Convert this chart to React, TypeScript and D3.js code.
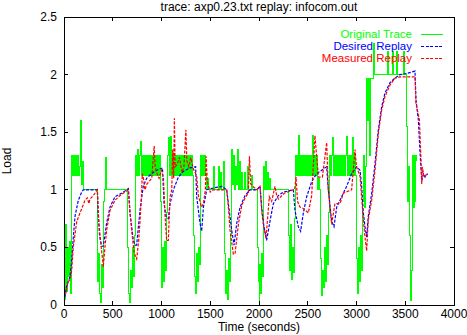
import React, { useEffect, useRef } from "react";
import * as d3 from "d3";

const title = "trace: axp0.23.txt replay: infocom.out";
const xLabel = "Time (seconds)";
const yLabel = "Load";
const xTicks = [0, 500, 1000, 1500, 2000, 2500, 3000, 3500, 4000];
const yTicks = [0, 0.5, 1, 1.5, 2, 2.5];
const seriesNames = ["Original Trace", "Desired Replay", "Measured Replay"];
const seriesColors = ["#00ff00", "#0000ff", "#ff0000"];

// Original trace, sampled every 10 s starting at t = 0
const greenStep = 10;
const greenValues = [
  1.25, 0.05, 0.7, 0.12, 0.5, 0.25, 0.55, 0.1, 1.3, 1.12,
  1.3, 1.12, 1.3, 1.12, 1.3, 1.12, 1.2, 1.6, 1.05, 1.25,
  1, 1, 1, 1, 1, 1, 1, 1, 1, 1,
  1, 1, 1, 1, 0.2, 0.45, 0.1, 0.02, 0.35, 0.15,
  0.4, 0.9, 1.0, 1.28, 1, 1, 1, 1, 1, 1,
  1, 1, 1, 1, 1, 1, 1, 1, 1, 1,
  1, 1, 1, 1, 1, 0.5, 0.1, 0.02, 0.3, 0.15,
  0.5, 0.25, 0.6, 1.3, 1.12, 1.35, 1.12, 1.3, 1.42, 1.12,
  1.3, 1.12, 1.3, 1.12, 1.3, 1.12, 1.3, 1.12, 1.3, 1.12,
  1.3, 1.12, 1.3, 1.12, 1.3, 1.12, 1.3, 1.12, 1.3, 0.9,
  0.15, 0.5, 0.2, 0.55, 0.3, 0.8, 1.3, 1.45, 1.12, 1.46,
  1.12, 1.3, 1.12, 1.3, 1.12, 1.3, 1.12, 1.3, 1.12, 1.3,
  1.12, 1.3, 1.12, 1.3, 1.12, 1.3, 1.12, 1.3, 1.12, 1.3,
  1.12, 1.3, 1.12, 0.6, 0.25, 0.1, 0.45, 0.2, 0.5, 0.35,
  1.3, 1.12, 1.3, 1.12, 1.3, 1.12, 1.0, 1.1, 1.0, 1.0,
  1, 1, 1, 1.2, 1, 1, 1, 1, 1.2, 1,
  1, 1.15, 1, 1, 1.25, 0.45, 0.1, 0.3, 0.05, 0.4,
  0.2, 0.6, 1.35, 1.05, 1.3, 1.0, 1.2, 1.05, 1.35, 1.0,
  1.25, 1.0, 1.15, 1, 1, 1.15, 1, 1, 1.2, 1,
  1, 1, 1.12, 1, 1, 1, 1, 1, 0.5, 0.2,
  0.03, 0.35, 0.1, 0.45, 0.25, 1.2, 1.0, 1.25, 1.0, 1.15,
  1.0, 1.1, 1, 1, 1, 1, 1, 1, 1, 1,
  1, 1, 1, 1, 1, 1, 1, 1, 1, 1,
  0.6, 0.3, 0.7, 0.22, 0.5, 0.28, 0.75, 1.3, 1.12, 1.3,
  1.12, 1.47, 1.12, 1.3, 1.12, 1.3, 1.12, 1.3, 1.12, 1.3,
  1.12, 1.3, 1.12, 1.3, 1.12, 1.47, 1.12, 1.3, 1.12, 1.3,
  1.0, 1.1, 1.0, 0.4, 0.08, 0.3, 0.15, 0.5, 0.2, 0.6,
  0.35, 0.8, 1.3, 1.12, 1.3, 1.45, 1.12, 1.3, 1.12, 1.3,
  1.12, 1.3, 1.12, 1.3, 1.12, 1.3, 1.12, 1.3, 1.12, 1.3,
  1.46, 1.12, 1.3, 1.12, 1.3, 1.12, 1.45, 1.12, 1.3, 1.12,
  0.4, 0.1, 0.5, 0.2, 0.6, 0.3, 0.9, 1.3, 0.85, 1.2,
  1.97, 1.6, 1.97, 1.3, 1.97, 1.97, 1.97, 2.27, 2.0, 2.0,
  2.0, 2.0, 2.0, 2.0, 2.0, 2.0, 2.0, 2.0, 2.0, 2.0,
  2.0, 2.0, 2.2, 2.0, 2.0, 2.0, 2.0, 2.2, 2.0, 2.0,
  2.0, 2.2, 2.0, 2.0, 2.0, 2.0, 2.0, 2.0, 2.2, 2.0,
  2.0, 1.55, 0.9, 1.2, 0.6, 0.04, 0.3, 1.3, 0.85, 1.3,
  0.9, 1.3, 1.25,
];

// Desired replay: [time, load]
const blueData: [number, number][] = [
  [0, 0.03], [27, 0.16], [62, 0.25], [79, 0.39], [96, 0.59], [113, 0.77], [147, 0.91], [181, 0.98], [198, 1.0],
  [342, 1.0], [350, 0.8], [365, 0.6], [386, 0.51], [403, 0.51], [437, 0.71], [472, 0.85], [523, 0.94], [591, 0.97],
  [660, 1.01], [677, 0.8], [711, 0.56], [730, 0.52], [745, 0.52], [779, 0.82], [813, 1.03], [848, 1.1], [899, 1.14],
  [950, 1.17], [1010, 1.19], [1026, 0.88], [1046, 0.77], [1070, 0.75], [1088, 0.88], [1122, 1.0], [1173, 1.11],
  [1224, 1.16], [1293, 1.19], [1350, 1.2], [1361, 0.94], [1395, 0.71], [1412, 0.64], [1430, 0.85], [1464, 1.0],
  [1498, 1.01], [1618, 1.03], [1669, 1.0], [1686, 0.88], [1720, 0.65], [1744, 0.52], [1772, 0.71], [1806, 0.85],
  [1857, 0.95], [1908, 1.0], [1977, 1.0], [2011, 1.03], [2027, 0.85], [2051, 0.68], [2078, 0.56], [2113, 0.73],
  [2147, 0.88], [2198, 0.95], [2249, 0.98], [2352, 1.0], [2369, 0.82], [2403, 0.68], [2427, 0.64], [2455, 0.8],
  [2489, 0.94], [2540, 1.07], [2591, 1.14], [2643, 1.17], [2694, 1.2], [2711, 1.0], [2745, 0.73], [2769, 0.68],
  [2797, 0.85], [2848, 0.94], [2899, 1.03], [2950, 1.14], [3002, 1.2], [3036, 1.17], [3053, 1.03], [3070, 0.8],
  [3087, 0.68], [3104, 0.59], [3121, 0.77], [3156, 0.97], [3190, 1.23], [3224, 1.52], [3258, 1.72], [3292, 1.84],
  [3344, 1.93], [3395, 1.97], [3446, 2.0], [3515, 2.01], [3600, 2.03], [3610, 1.78], [3634, 1.61], [3652, 1.32],
  [3669, 1.08], [3686, 1.14], [3703, 1.11], [3730, 1.14],
];

// Measured replay: [time, load]
const redData: [number, number][] = [
  [0, 0.15], [20, 0.1], [40, 0.2], [62, 0.22], [79, 0.3], [96, 0.51], [130, 0.72], [164, 0.8], [198, 0.87],
  [215, 0.91], [240, 0.93], [255, 0.88], [267, 0.92], [290, 0.94], [318, 0.97], [342, 1.0], [355, 0.75],
  [375, 0.55], [395, 0.4], [403, 0.33], [420, 0.5], [437, 0.65], [472, 0.82], [523, 0.91], [575, 0.95],
  [625, 0.98], [660, 1.0], [677, 0.8], [700, 0.6], [720, 0.45], [745, 0.4], [765, 0.55], [779, 0.72],
  [795, 0.95], [803, 1.14], [815, 1.1], [830, 1.0], [850, 1.05], [880, 1.08], [900, 1.1], [925, 1.38],
  [935, 1.2], [950, 1.15], [975, 1.1], [1000, 1.17], [1020, 1.1], [1036, 0.78], [1053, 0.56], [1070, 0.56],
  [1088, 0.94], [1105, 1.0], [1115, 1.35], [1125, 1.1], [1132, 1.62], [1140, 1.2], [1160, 1.22], [1185, 1.28],
  [1210, 1.15], [1230, 1.2], [1250, 1.52], [1260, 1.25], [1280, 1.2], [1300, 1.28], [1327, 1.18], [1361, 1.12],
  [1378, 0.95], [1410, 0.85], [1430, 0.88], [1450, 1.0], [1457, 1.29], [1470, 1.07], [1500, 0.98], [1532, 1.0],
  [1669, 1.0], [1686, 0.85], [1703, 0.65], [1737, 0.44], [1755, 0.45], [1790, 0.71], [1825, 0.87], [1857, 0.93],
  [1891, 0.97], [1902, 1.29], [1915, 1.05], [1950, 1.02], [1980, 1.0], [2010, 1.03], [2030, 0.8], [2044, 0.7],
  [2072, 0.58], [2106, 0.94], [2130, 0.9], [2164, 1.03], [2181, 0.95], [2200, 0.92], [2260, 0.97], [2352, 1.0],
  [2365, 1.0], [2380, 1.11], [2395, 0.9], [2420, 0.85], [2450, 0.84], [2506, 0.8], [2540, 0.95], [2574, 1.47],
  [2590, 1.3], [2610, 1.11], [2650, 1.11], [2694, 1.41], [2711, 1.0], [2745, 0.7], [2779, 0.88], [2831, 0.88],
  [2865, 0.97], [2950, 1.0], [2985, 1.35], [3000, 1.2], [3036, 1.12], [3070, 0.74], [3087, 0.59], [3104, 0.47],
  [3121, 0.74], [3156, 0.91], [3190, 1.17], [3224, 1.49], [3258, 1.69], [3292, 1.81], [3344, 1.91], [3395, 1.97],
  [3446, 1.98], [3600, 1.98], [3610, 1.75], [3645, 1.61], [3660, 1.3], [3669, 1.05], [3676, 1.2], [3690, 1.12],
  [3703, 1.11], [3720, 1.14],
];

const W = 467;
const H = 335;
const M = { left: 64, right: 13, top: 17, bottom: 30 };
const FONT = "'Liberation Sans', Arial, Helvetica, sans-serif";

export default function App() {
  const ref = useRef<SVGSVGElement | null>(null);

  useEffect(() => {
    document.body.style.margin = "0";
    const svg = d3.select(ref.current);
    svg.selectAll("*").remove();

    const x = d3.scaleLinear().domain([0, 4000]).range([M.left, W - M.right]);
    const y = d3.scaleLinear().domain([0, 2.5]).range([H - M.bottom, M.top]);
    const x0 = M.left, x1 = W - M.right, y0 = H - M.bottom, y1 = M.top;

    svg.append("rect").attr("width", W).attr("height", H).attr("fill", "#fff");

    const defs = svg.append("defs");
    defs.append("clipPath").attr("id", "plotclip")
      .append("rect").attr("x", x0).attr("y", y1).attr("width", x1 - x0).attr("height", y0 - y1);

    const greenData: [number, number][] = greenValues.map((v, i) => [i * greenStep, v]);

    const line = d3.line<[number, number]>().x((d) => x(d[0])).y((d) => y(d[1]));
    const stepLine = d3.line<[number, number]>().x((d) => x(d[0])).y((d) => y(d[1])).curve(d3.curveStepAfter);

    const g = svg.append("g").attr("clip-path", "url(#plotclip)");
    g.append("path").attr("d", stepLine(greenData) || "").attr("fill", "none")
      .attr("stroke", seriesColors[0]).attr("stroke-width", 1).attr("shape-rendering", "crispEdges");
    g.append("path").attr("d", line(blueData) || "").attr("fill", "none")
      .attr("stroke", seriesColors[1]).attr("stroke-width", 1.2).attr("stroke-dasharray", "3,1.5");
    g.append("path").attr("d", line(redData) || "").attr("fill", "none")
      .attr("stroke", seriesColors[2]).attr("stroke-width", 1.2).attr("stroke-dasharray", "3,1.5");

    // frame
    svg.append("rect").attr("x", x0).attr("y", y1).attr("width", x1 - x0).attr("height", y0 - y1)
      .attr("fill", "none").attr("stroke", "#000").attr("stroke-width", 1).attr("shape-rendering", "crispEdges");

    const tl = 4;
    const ticks = svg.append("g").attr("stroke", "#000").attr("shape-rendering", "crispEdges");
    xTicks.forEach((t) => {
      ticks.append("line").attr("x1", x(t)).attr("x2", x(t)).attr("y1", y0).attr("y2", y0 - tl);
      ticks.append("line").attr("x1", x(t)).attr("x2", x(t)).attr("y1", y1).attr("y2", y1 + tl);
    });
    yTicks.forEach((t) => {
      ticks.append("line").attr("x1", x0).attr("x2", x0 + tl).attr("y1", y(t)).attr("y2", y(t));
      ticks.append("line").attr("x1", x1).attr("x2", x1 - tl).attr("y1", y(t)).attr("y2", y(t));
    });

    const txt = svg.append("g").attr("font-family", FONT).attr("font-size", 12).attr("fill", "#000");
    xTicks.forEach((t) => {
      txt.append("text").attr("x", x(t)).attr("y", y0 + 13).attr("text-anchor", "middle").text(String(t));
    });
    yTicks.forEach((t) => {
      txt.append("text").attr("x", x0 - 7).attr("y", y(t) + 4).attr("text-anchor", "end").text(String(t));
    });
    txt.append("text").attr("x", (x0 + x1) / 2).attr("y", 11).attr("text-anchor", "middle").text(title);
    txt.append("text").attr("x", (x0 + x1) / 2).attr("y", 331).attr("text-anchor", "middle").text(xLabel);
    txt.append("text").attr("transform", `translate(11,161) rotate(-90)`).attr("text-anchor", "middle").text(yLabel);

    // legend
    const legY = [34, 46, 58];
    const leg = svg.append("g").attr("font-family", FONT).attr("font-size", 11.5);
    seriesNames.forEach((name, i) => {
      leg.append("text").attr("x", 412).attr("y", legY[i] + 4).attr("text-anchor", "end")
        .attr("fill", seriesColors[i]).text(name);
      const l = leg.append("line").attr("x1", 421).attr("x2", 443).attr("y1", legY[i]).attr("y2", legY[i])
        .attr("stroke", seriesColors[i]).attr("stroke-width", 1).attr("shape-rendering", "crispEdges");
      if (i > 0) l.attr("stroke-dasharray", "3,1.5");
    });
  }, []);

  return (
    <div style={{ position: "absolute", left: 0, top: 0 }}>
      <svg ref={ref} width={W} height={H} style={{ display: "block" }} />
    </div>
  );
}
